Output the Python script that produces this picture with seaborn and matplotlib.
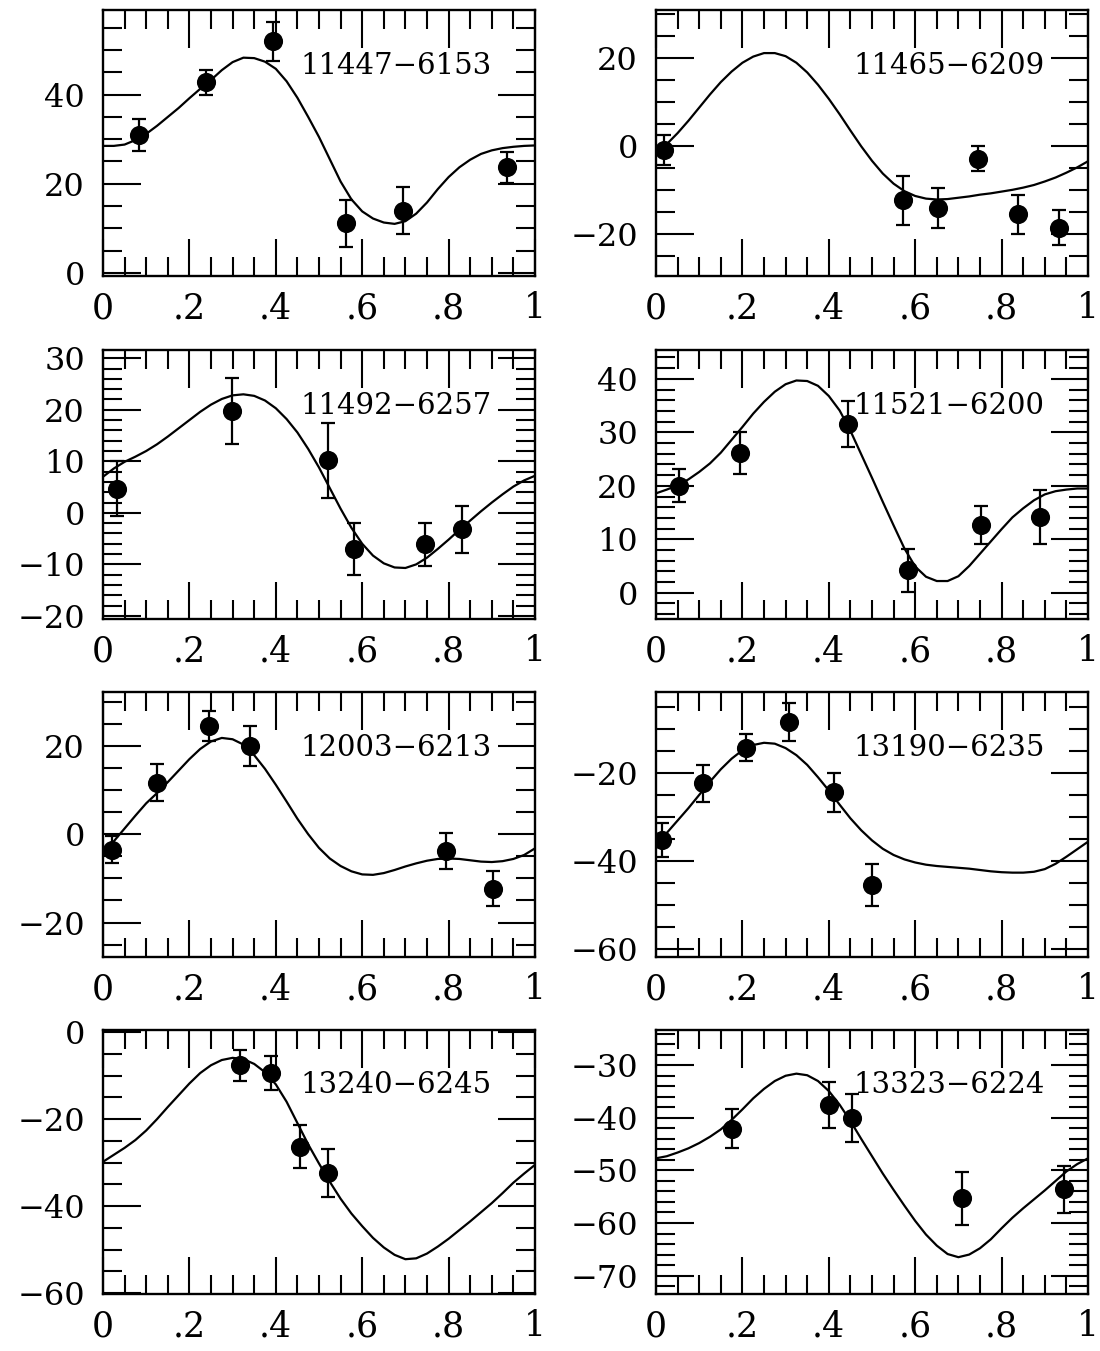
import matplotlib
matplotlib.use("Agg")
import matplotlib.pyplot as plt
from matplotlib.ticker import MultipleLocator, FixedLocator, FixedFormatter
import seaborn as sns
import pandas as pd

# ---------------- data ----------------
phase_grid = [0.000, 0.025, 0.050, 0.075, 0.100, 0.125, 0.150, 0.175, 0.200, 0.225,
              0.250, 0.275, 0.300, 0.325, 0.350, 0.375, 0.400, 0.425, 0.450, 0.475,
              0.500, 0.525, 0.550, 0.575, 0.600, 0.625, 0.650, 0.675, 0.700, 0.725,
              0.750, 0.775, 0.800, 0.825, 0.850, 0.875, 0.900, 0.925, 0.950, 0.975,
              1.000]

# 11447-6153
fit_11447 = [28.5, 28.5, 28.8, 29.8, 31.2, 33.0, 35.0, 37.0, 39.2, 41.3,
             43.3, 45.5, 47.3, 48.3, 48.2, 47.4, 45.8, 43.0, 39.3, 35.0,
             30.5, 25.5, 20.5, 16.5, 13.8, 12.2, 11.3, 11.0, 11.6, 13.3,
             15.8, 18.8, 21.5, 23.7, 25.4, 26.7, 27.5, 28.0, 28.3, 28.5,
             28.6]
ph_11447 = [0.083, 0.238, 0.394, 0.562, 0.695, 0.935]
v_11447 = [30.9, 42.8, 52.0, 11.1, 14.0, 23.7]
e_11447 = [3.6, 2.8, 4.4, 5.2, 5.2, 3.5]

# 11465-6209
fit_11465 = [-1.5, 0.5, 3.0, 5.8, 8.8, 11.8, 14.6, 17.0, 19.0, 20.4,
             21.2, 21.2, 20.5, 19.0, 16.8, 14.0, 10.8, 7.3, 3.6, 0.0,
             -3.3, -6.2, -8.5, -10.2, -11.3, -11.9, -12.1, -12.0, -11.7, -11.4,
             -11.0, -10.7, -10.3, -9.9, -9.4, -8.8, -8.0, -7.1, -6.0, -4.8,
             -3.4]
ph_11465 = [0.019, 0.572, 0.653, 0.745, 0.837, 0.932]
v_11465 = [-0.9, -12.3, -14.0, -2.8, -15.5, -18.5]
e_11465 = [3.4, 5.6, 4.5, 2.8, 4.5, 4.0]

# 11492-6257
fit_11492 = [7.0, 8.6, 9.9, 10.9, 12.0, 13.3, 14.8, 16.4, 18.0, 19.6,
             21.0, 22.1, 22.8, 23.0, 22.7, 21.8, 20.3, 18.2, 15.6, 12.4,
             8.8, 4.8, 0.8, -2.9, -6.0, -8.3, -9.8, -10.6, -10.7, -10.0,
             -8.7, -7.0, -5.2, -3.3, -1.5, 0.3, 2.0, 3.6, 5.1, 6.3,
             7.2]
ph_11492 = [0.032, 0.299, 0.521, 0.582, 0.745, 0.830]
v_11492 = [4.7, 19.7, 10.2, -7.0, -6.1, -3.2]
e_11492 = [5.4, 6.4, 7.3, 5.1, 4.2, 4.5]

# 11521-6200
fit_11521 = [18.6, 19.3, 20.1, 21.2, 22.6, 24.2, 26.2, 28.6, 31.0, 33.5,
             35.7, 37.6, 39.0, 39.7, 39.6, 38.7, 36.8, 34.1, 30.3, 25.9,
             21.5, 17.0, 12.6, 8.3, 4.9, 3.0, 2.2, 2.2, 3.1, 5.0,
             7.3, 9.6, 11.9, 14.1, 15.8, 17.3, 18.4, 19.0, 19.3, 19.5,
             19.5]
ph_11521 = [0.053, 0.194, 0.445, 0.583, 0.752, 0.890]
v_11521 = [20.0, 26.1, 31.5, 4.2, 12.7, 14.2]
e_11521 = [3.1, 3.9, 4.3, 4.0, 3.6, 5.0]

# 12003-6213
fit_12003 = [-4.2, -1.6, 1.3, 4.2, 7.0, 9.3, 11.8, 14.4, 17.0, 19.3,
             21.0, 21.8, 21.5, 20.3, 17.9, 14.8, 11.2, 7.4, 3.5, 0.0,
             -3.1, -5.5, -7.2, -8.4, -9.1, -9.2, -8.8, -8.1, -7.3, -6.6,
             -6.0, -5.6, -5.5, -5.6, -5.9, -6.2, -6.3, -6.1, -5.6, -4.7,
             -3.2]
ph_12003 = [0.020, 0.124, 0.245, 0.341, 0.795, 0.903]
v_12003 = [-3.5, 11.7, 24.5, 20.0, -3.8, -12.3]
e_12003 = [3.0, 4.1, 3.4, 4.5, 4.1, 3.9]

# 13190-6235
fit_13190 = [-36.3, -33.6, -30.8, -28.0, -25.0, -22.0, -19.2, -16.8, -14.9, -13.7,
             -13.2, -13.4, -14.4, -16.0, -18.2, -21.0, -24.0, -27.2, -30.3, -33.0,
             -35.3, -37.2, -38.6, -39.6, -40.3, -40.8, -41.1, -41.3, -41.5, -41.7,
             -42.0, -42.3, -42.5, -42.6, -42.6, -42.4, -41.8, -40.6, -39.0, -37.3,
             -35.6]
ph_13190 = [0.015, 0.109, 0.209, 0.309, 0.412, 0.501]
v_13190 = [-35.2, -22.4, -14.3, -8.5, -24.4, -45.4]
e_13190 = [3.8, 4.1, 3.0, 4.3, 4.4, 4.8]

# 13240-6245
fit_13240 = [-29.8, -28.2, -26.6, -24.8, -22.6, -20.0, -17.2, -14.5, -11.8, -9.4,
             -7.6, -6.4, -5.9, -6.2, -7.3, -9.2, -12.0, -16.0, -20.9, -25.8,
             -30.2, -34.4, -38.3, -41.7, -44.6, -47.3, -49.5, -51.2, -52.2, -52.0,
             -50.9, -49.3, -47.5, -45.5, -43.5, -41.4, -39.3, -37.0, -34.6, -32.5,
             -30.5]
ph_13240 = [0.317, 0.390, 0.457, 0.520]
v_13240 = [-7.6, -9.4, -26.3, -32.4]
e_13240 = [3.6, 3.9, 4.9, 5.6]

# 13323-6224
fit_13323 = [-47.7, -47.3, -46.6, -45.8, -44.8, -43.6, -42.2, -40.4, -38.4, -36.3,
             -34.5, -33.0, -32.0, -31.6, -31.9, -33.0, -34.9, -37.5, -40.6, -44.0,
             -47.3, -50.6, -53.7, -56.7, -59.6, -62.2, -64.3, -65.9, -66.5, -66.0,
             -64.8, -63.1, -61.0, -59.0, -57.2, -55.5, -53.8, -52.0, -50.2, -48.8,
             -47.7]
ph_13323 = [0.177, 0.400, 0.453, 0.708, 0.945]
v_13323 = [-42.1, -37.6, -40.0, -55.3, -53.6]
e_13323 = [3.7, 4.4, 4.6, 5.0, 4.5]

names = ["11447\u22126153", "11465\u22126209", "11492\u22126257", "11521\u22126200",
         "12003\u22126213", "13190\u22126235", "13240\u22126245", "13323\u22126224"]
x_tick_labels = ["0", ".2", ".4", ".6", ".8", "1"]

# ---------------- styling / layout ----------------
panels = [
    (fit_11447, ph_11447, v_11447, e_11447, (-0.7, 59.0), [0, 20, 40], 5),
    (fit_11465, ph_11465, v_11465, e_11465, (-29.5, 31.0), [-20, 0, 20], 5),
    (fit_11492, ph_11492, v_11492, e_11492, (-20.6, 31.6), [-20, -10, 0, 10, 20, 30], 2),
    (fit_11521, ph_11521, v_11521, e_11521, (-4.9, 45.4), [0, 10, 20, 30, 40], 2),
    (fit_12003, ph_12003, v_12003, e_12003, (-27.8, 32.2), [-20, 0, 20], 5),
    (fit_13190, ph_13190, v_13190, e_13190, (-61.7, -1.7), [-60, -40, -20], 5),
    (fit_13240, ph_13240, v_13240, e_13240, (-60.2, 0.5), [-60, -40, -20, 0], 5),
    (fit_13323, ph_13323, v_13323, e_13323, (-73.5, -23.3), [-70, -60, -50, -40, -30], 2),
]

sns.set_style("white")
plt.rcParams["font.family"] = ["DejaVu Serif"]
plt.rcParams["axes.unicode_minus"] = True
plt.rcParams["text.color"] = "black"
plt.rcParams["xtick.color"] = "black"
plt.rcParams["ytick.color"] = "black"
plt.rcParams["xtick.labelcolor"] = "black"
plt.rcParams["ytick.labelcolor"] = "black"

W, H = 1100, 1351
fig = plt.figure(figsize=(W / 100, H / 100), dpi=100)

col_left = [103, 656]
col_width = 432
rows = [(10, 276), (350, 619), (692, 957), (1030, 1294)]

for i, (fit, ph, v, e, ylim, yt, ymin) in enumerate(panels):
    r, c = divmod(i, 2)
    top, bot = rows[r]
    ax = fig.add_axes([col_left[c] / W, 1 - bot / H, col_width / W, (bot - top) / H])

    df_fit = pd.DataFrame({"phase": phase_grid, "v": fit})
    sns.lineplot(data=df_fit, x="phase", y="v", ax=ax, color="black", lw=1.6,
                 sort=False, estimator=None)
    ax.errorbar(ph, v, yerr=e, fmt="none", ecolor="black", elinewidth=1.6,
                capsize=5, capthick=1.6, zorder=3)
    df_pts = pd.DataFrame({"phase": ph, "v": v})
    sns.scatterplot(data=df_pts, x="phase", y="v", ax=ax, color="black", s=190,
                    edgecolor="black", linewidth=0, zorder=4)

    ax.set_xlim(0, 1)
    ax.set_ylim(*ylim)
    ax.xaxis.set_major_locator(FixedLocator([0, 0.2, 0.4, 0.6, 0.8, 1.0]))
    ax.xaxis.set_major_formatter(FixedFormatter(x_tick_labels))
    ax.xaxis.set_minor_locator(MultipleLocator(0.05))
    ax.yaxis.set_major_locator(FixedLocator(yt))
    ax.yaxis.set_minor_locator(MultipleLocator(ymin))

    ax.tick_params(which="both", direction="in", top=True, right=True,
                   bottom=True, left=True, color="black", labelcolor="black", width=1.5)
    ax.tick_params(which="major", length=27)
    ax.tick_params(which="minor", length=14)
    ax.tick_params(axis="x", which="major", labelsize=25, pad=11)
    ax.tick_params(axis="y", which="major", labelsize=23, pad=13)
    for s in ax.spines.values():
        s.set_linewidth(1.7)
        s.set_color("black")
    ax.set_xlabel("")
    ax.set_ylabel("")

    ax.text(0.9, 0.79, names[i], transform=ax.transAxes, ha="right", va="center",
            fontsize=21, color="black")

fig.savefig("out.png", dpi=100, facecolor="white")
